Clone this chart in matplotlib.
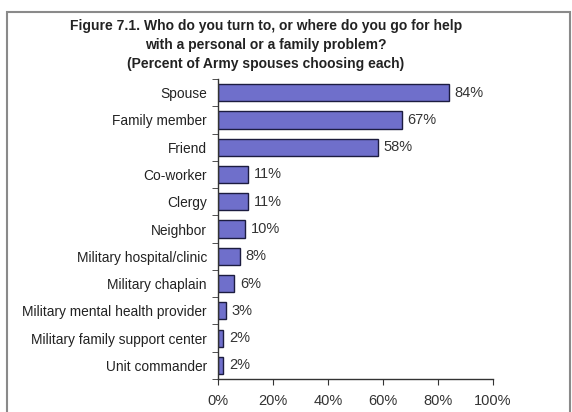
import numpy as np
import matplotlib
matplotlib.use("Agg")
import matplotlib.pyplot as plt
from matplotlib.patches import Rectangle
from matplotlib.ticker import FixedLocator, PercentFormatter

plt.rcParams['font.family'] = ['Liberation Sans', 'DejaVu Sans']

# data
categories = ["Spouse", "Family member", "Friend", "Co-worker", "Clergy",
              "Neighbor", "Military hospital/clinic", "Military chaplain",
              "Military mental health provider", "Military family support center",
              "Unit commander"]
percents = [84, 67, 58, 11, 11, 10, 8, 6, 3, 2, 2]
xticks = [0, 20, 40, 60, 80, 100]

title = ("Figure 7.1. Who do you turn to, or where do you go for help\n"
         "with a personal or a family problem?\n"
         "(Percent of Army spouses choosing each)")

fig = plt.figure(figsize=(5.72, 4.12), dpi=100)
ax = fig.add_axes([218 / 572, 1 - 379 / 412, 275 / 572, 300 / 412])

y = np.arange(len(categories))
ax.barh(y, percents, height=0.63, color="#6f6fcb", edgecolor="#1c1c40", linewidth=1.0)

for yi, v in zip(y, percents):
    ax.text(v + 2.0, yi, f"{v}%", va="center", ha="left", fontsize=10.5, color="#333333")

ax.set_ylim(len(categories) - 0.5, -0.5)
ax.set_xlim(0, 100)
ax.set_yticks(y)
ax.set_yticklabels(categories, fontsize=9.9, color="#222222")
ax.yaxis.set_minor_locator(FixedLocator(np.arange(-0.5, len(categories), 1)))
ax.tick_params(axis="y", which="major", length=0, pad=8)
ax.tick_params(axis="y", which="minor", length=4, direction="out", color="#333333")
ax.set_xticks(xticks)
ax.xaxis.set_major_formatter(PercentFormatter(decimals=0))
ax.tick_params(axis="x", length=4, direction="out", color="#333333", labelsize=10.5,
               labelcolor="#333333", pad=7)

for s in ["top", "right"]:
    ax.spines[s].set_visible(False)
for s in ["left", "bottom"]:
    ax.spines[s].set_color("#333333")
    ax.spines[s].set_linewidth(1.0)

fig.text(266 / 572, 1 - 19 / 412, title, ha="center", va="top", fontsize=10,
         fontweight="bold", linespacing=1.45, color="#222222")

# gray frame round the figure
fig.patches.append(Rectangle((7 / 572, -0.05), 563 / 572, 1.05 - 12 / 412,
                             transform=fig.transFigure, fill=False,
                             edgecolor="#8a8a8a", linewidth=1.5))

fig.savefig("out.png", dpi=100)
